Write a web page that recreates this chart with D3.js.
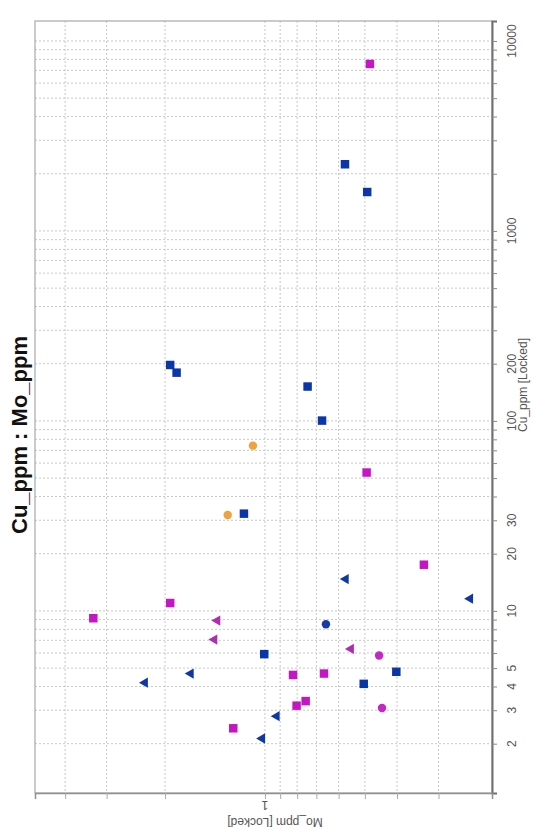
<!DOCTYPE html>
<html>
<head>
<meta charset="utf-8">
<script src="https://cdn.jsdelivr.net/npm/d3@7"></script>
<style>
  body { margin: 0; background: #fff; }
  svg { font-family: "Liberation Sans", Arial, sans-serif; }
</style>
</head>
<body>
<div id="chart"></div>
<script>
// values: [Cu_ppm, Mo_ppm]
var magentaSquares = [[7570, 0.483], [53.5, 0.494], [17.5, 0.332], [11.0, 1.93], [9.15, 3.29],
  [4.60, 0.823], [4.68, 0.664], [3.35, 0.754], [3.17, 0.803], [2.41, 1.246]];
var blueSquares = [[2244, 0.574], [1603, 0.492], [197, 1.93], [179.5, 1.846], [151.7, 0.744],
  [100.4, 0.673], [32.5, 1.157], [5.92, 1.005], [4.13, 0.504], [4.78, 0.402]];
var orangeCircles = [[74.1, 1.087], [32.0, 1.295]];
var blueCircles = [[8.51, 0.655]];
var magentaCircles = [[5.82, 0.453], [3.08, 0.444]];
var blueTriangles = [[14.7, 0.571], [11.6, 0.241], [4.19, 2.30], [4.68, 1.674], [2.79, 0.922], [2.13, 1.02]];
var magentaTriangles = [[8.89, 1.392], [7.06, 1.421], [6.31, 0.551]];

var cuGrid = [2, 3, 4, 5, 6, 7, 8, 9, 10, 20, 30, 40, 50, 60, 70, 80, 90, 100, 200, 300, 400, 500, 600, 700, 800, 900,
  1000, 2000, 3000, 4000, 5000, 6000, 7000, 8000, 9000, 10000];
var cuLabels = [2, 3, 4, 5, 10, 20, 30, 100, 200, 1000, 10000];
var moGrid = [0.3, 0.4, 0.5, 0.6, 0.7, 0.8, 0.9, 1, 2, 3, 4];
var moLabels = [1];

var series = [
  { pts: magentaSquares, shape: "square", color: "#c416c4" },
  { pts: blueSquares, shape: "square", color: "#0b36a8" },
  { pts: orangeCircles, shape: "circle", color: "#f1a13e" },
  { pts: blueCircles, shape: "circle", color: "#1838a6" },
  { pts: magentaCircles, shape: "circle", color: "#c526c5" },
  { pts: blueTriangles, shape: "triangle", color: "#0f38a2" },
  { pts: magentaTriangles, shape: "triangle", color: "#b02cb0" }
];

var W = 546, H = 835;
var plot = { left: 35, right: 492, top: 21, bottom: 793 };

var svg = d3.select("#chart").append("svg")
  .attr("width", W)
  .attr("height", H);

// chart is shown turned on its side: Cu runs up the page, Mo runs right to left
var y = d3.scaleLog().domain([1.10, 12740]).range([plot.bottom, plot.top]);
var x = d3.scaleLog().domain([4.93, 0.207]).range([plot.left, plot.right]);

// grid
svg.append("g").selectAll("line")
  .data(cuGrid)
  .enter().append("line")
  .attr("x1", plot.left).attr("x2", plot.right)
  .attr("y1", function (d) { return y(d); })
  .attr("y2", function (d) { return y(d); })
  .attr("stroke", "#c8c8c8")
  .attr("stroke-dasharray", "2,2");

svg.append("g").selectAll("line")
  .data(moGrid)
  .enter().append("line")
  .attr("y1", plot.top).attr("y2", plot.bottom)
  .attr("x1", function (d) { return x(d); })
  .attr("x2", function (d) { return x(d); })
  .attr("stroke", "#c8c8c8")
  .attr("stroke-dasharray", "2,2");

// frame
svg.append("rect")
  .attr("x", plot.left).attr("y", plot.top)
  .attr("width", plot.right - plot.left)
  .attr("height", plot.bottom - plot.top)
  .attr("fill", "none")
  .attr("stroke", "#a8a8a8")
  .attr("stroke-width", 1.2);

// Cu axis on the right
var cuAxis = svg.append("g")
  .attr("transform", "translate(" + plot.right + ",0)")
  .call(d3.axisRight(y).tickValues(cuGrid).tickSize(5).tickFormat(""));
cuAxis.select(".domain").attr("stroke", "#707070").attr("stroke-width", 2);
cuAxis.selectAll(".tick line").attr("stroke", "#888");

svg.append("g").selectAll("text")
  .data(cuLabels)
  .enter().append("text")
  .attr("transform", function (d) { return "translate(516," + y(d) + ") rotate(-90)"; })
  .attr("text-anchor", "middle")
  .attr("font-size", 12)
  .attr("fill", "#555")
  .text(function (d) { return d; });

// Mo axis at the bottom
var moAxis = svg.append("g")
  .attr("transform", "translate(0," + plot.bottom + ")")
  .call(d3.axisBottom(x).tickValues(moGrid).tickSize(6).tickFormat(""));
moAxis.select(".domain").attr("stroke", "#909090").attr("stroke-width", 1.5);
moAxis.selectAll(".tick line").attr("stroke", "#aaa");

svg.append("g").selectAll("text")
  .data(moLabels)
  .enter().append("text")
  .attr("transform", function (d) { return "translate(" + x(d) + ",801) rotate(180)"; })
  .attr("text-anchor", "middle")
  .attr("font-size", 12)
  .attr("fill", "#555")
  .text(function (d) { return d; });

// axis titles
svg.append("text")
  .attr("transform", "translate(275,818) rotate(180)")
  .attr("text-anchor", "middle")
  .attr("font-size", 12)
  .attr("fill", "#555")
  .text("Mo_ppm [Locked]");

svg.append("text")
  .attr("transform", "translate(527,385) rotate(-90)")
  .attr("text-anchor", "middle")
  .attr("font-size", 12)
  .attr("fill", "#555")
  .text("Cu_ppm [Locked]");

svg.append("text")
  .attr("transform", "translate(27,435) rotate(-90)")
  .attr("text-anchor", "middle")
  .attr("font-size", 22)
  .attr("font-weight", "bold")
  .attr("fill", "#111")
  .text("Cu_ppm : Mo_ppm");

// points
var symbols = {
  square: d3.symbol().type(d3.symbolSquare).size(72),
  circle: d3.symbol().type(d3.symbolCircle).size(56),
  triangle: d3.symbol().type(d3.symbolTriangle).size(46)
};

series.forEach(function (s) {
  svg.append("g").selectAll("path")
    .data(s.pts)
    .enter().append("path")
    .attr("d", symbols[s.shape])
    .attr("transform", function (d) {
      return "translate(" + x(d[1]) + "," + y(d[0]) + ")" + (s.shape == "triangle" ? " rotate(-90)" : "");
    })
    .attr("fill", s.color);
});
</script>
</body>
</html>
